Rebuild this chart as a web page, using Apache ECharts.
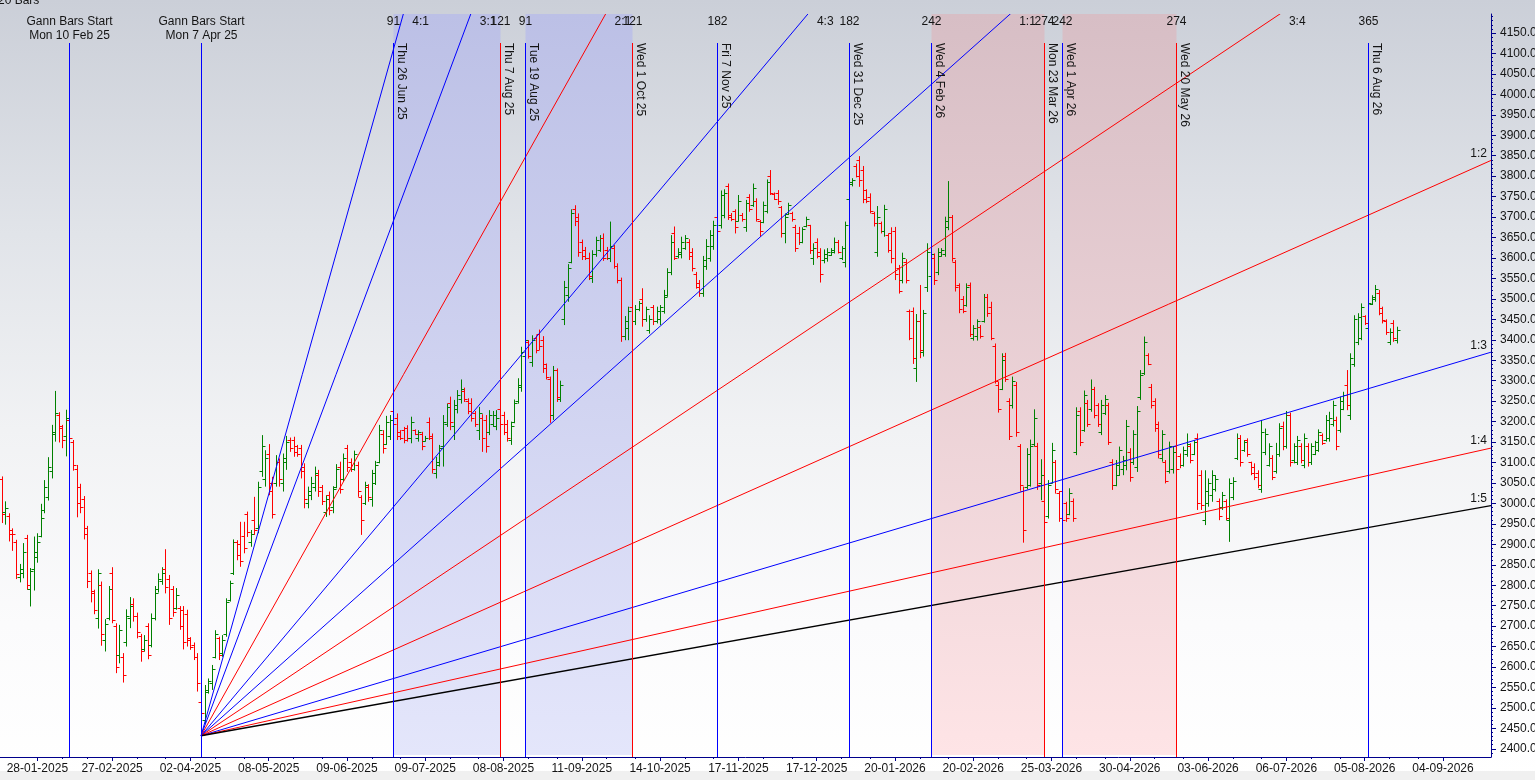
<!DOCTYPE html>
<html>
<head>
<meta charset="utf-8">
<script src="https://cdn.jsdelivr.net/npm/echarts@6.0.0/dist/echarts.min.js"></script>
<style>html,body{margin:0;padding:0;background:#fff;overflow:hidden}#c{width:1535px;height:780px}</style>
</head>
<body>
<div id="c"></div>
<script>
// ---------------- DATA ----------------
const startDate = '2025-01-14';
const categoryCount = 419;
const holidays = ['2025-02-26','2025-03-14','2025-03-31','2025-04-10','2025-04-14','2025-04-18','2025-05-01',
  '2025-08-15','2025-08-27','2025-10-02','2025-10-22','2025-11-05','2025-12-25',
  '2026-01-15','2026-01-26','2026-03-03','2026-03-26','2026-03-31','2026-04-03','2026-04-14',
  '2026-05-01','2026-05-28','2026-06-26','2026-09-14'];

const xTickLabels = ['28-01-2025','27-02-2025','02-04-2025','08-05-2025','09-06-2025','09-07-2025','08-08-2025',
  '11-09-2025','14-10-2025','17-11-2025','17-12-2025','20-01-2026','20-02-2026','25-03-2026','30-04-2026',
  '03-06-2026','06-07-2026','05-08-2026','04-09-2026'];

const yMin = 2380, yMax = 4196.5;
const yTicks = [2400,2450,2500,2550,2600,2650,2700,2750,2800,2850,2900,2950,3000,3050,3100,3150,3200,3250,
  3300,3350,3400,3450,3500,3550,3600,3650,3700,3750,3800,3850,3900,3950,4000,4050,4100,4150];

// daily bars [open, high, low, close], first bar = startDate
const ohlc = [
// Jan 14 - Feb 7 2025
[3060,3066,2952,2975],[2978,3005,2948,2988],[2970,2976,2907,2925],[2935,2939,2884,2924],[2905,2911,2815,2828],
[2820,2852,2807,2840],[2830,2903,2817,2880],[2915,2923,2789,2800],[2790,2842,2748,2835],[2840,2919,2787,2880],
[2870,2927,2855,2905],[2920,2999,2917,2965],[2985,3057,2976,3040],[3015,3113,3007,3090],[3080,3192,3061,3175],
[3170,3275,3151,3220],[3215,3223,3149,3190],[3185,3192,3135,3155],[3165,3229,3115,3210],
// Feb 10 - Apr 4
[3205,3215,3140,3160],[3150,3155,3080,3095],[3085,3094,2966,3000],[3040,3048,2976,2990],[3010,3018,2912,2925],
[2940,2945,2793,2810],[2830,2836,2758,2780],[2785,2789,2729,2740],[2720,2839,2694,2830],[2800,2809,2652,2680],
[2665,2717,2638,2705],[2720,2798,2714,2790],[2830,2844,2707,2715],[2700,2707,2585,2600],[2630,2703,2609,2690],
[2625,2634,2562,2580],[2660,2741,2650,2725],[2720,2771,2695,2750],[2755,2768,2711,2725],[2725,2733,2670,2685],
[2675,2681,2613,2640],[2645,2678,2638,2665],[2700,2707,2619,2630],[2655,2731,2648,2720],[2720,2798,2714,2780],
[2790,2829,2782,2815],[2810,2844,2801,2830],[2840,2888,2780,2795],[2815,2825,2703,2720],[2790,2798,2723,2735],
[2745,2793,2740,2775],[2745,2749,2691,2700],[2740,2749,2643,2660],[2730,2740,2650,2670],[2665,2673,2642,2650],
[2655,2660,2617,2625],[2625,2634,2540,2560],
// Apr 7 - Jun 25
[2515,2520,2432,2488],[2470,2556,2462,2545],[2540,2572,2535,2565],[2560,2605,2544,2595],[2625,2690,2621,2680],
[2670,2674,2617,2630],[2635,2678,2625,2665],[2680,2768,2674,2760],[2765,2811,2760,2805],[2830,2912,2825,2905],
[2905,2910,2861,2875],[2900,2955,2845,2860],[2920,2955,2878,2890],[2975,2980,2918,2930],[2905,2935,2894,2925],
[2960,3016,2923,2935],[2940,3053,2927,3040],[3080,3167,3065,3140],[3060,3130,3041,3110],[3120,3145,3020,3030],
[3050,3065,2963,2975],[3050,3118,3041,3100],[3100,3110,3041,3060],[3050,3122,3029,3110],[3100,3165,3082,3150],
[3155,3161,3126,3135],[3155,3163,3114,3125],[3140,3143,3114,3120],[3135,3143,3061,3080],[3090,3098,2988,3010],
[3000,3041,2988,3030],[3020,3065,3008,3050],[3040,3090,3029,3075],[3070,3082,3016,3030],[3040,3045,2996,3005],
[2980,3020,2967,3010],[3020,3029,2971,2985],[2990,3042,2976,3035],[3040,3096,3037,3085],[3090,3102,3024,3035],
[3060,3122,3053,3110],[3135,3143,3077,3090],[3100,3110,3077,3085],[3085,3129,3080,3120],[3095,3102,3016,3030],
[3015,3020,2923,2960],[3000,3053,2996,3045],[3040,3047,3004,3015],[3010,3082,2992,3075],[3050,3104,3045,3095],
[3100,3192,3098,3180],[3170,3179,3122,3135],[3145,3214,3143,3200],[3165,3216,3155,3205],
// Jun 26 - Aug 19
[3225,3232,3187,3195],[3210,3220,3155,3165],[3175,3179,3155,3160],[3180,3187,3147,3155],[3185,3191,3151,3160],
[3160,3212,3147,3200],[3180,3181,3167,3170],[3160,3179,3151,3175],[3170,3175,3130,3140],[3152,3165,3151,3160],
[3200,3210,3155,3165],[3160,3171,3073,3085],[3075,3114,3061,3100],[3095,3143,3090,3135],[3140,3216,3090,3200],
[3195,3244,3187,3235],[3245,3261,3179,3200],[3190,3253,3155,3240],[3230,3277,3220,3265],[3255,3303,3244,3280],
[3275,3283,3248,3255],[3250,3257,3218,3225],[3245,3257,3200,3210],[3220,3226,3187,3195],[3180,3236,3155,3220],
[3210,3218,3126,3160],[3205,3216,3124,3140],[3175,3228,3167,3215],[3195,3226,3187,3215],[3190,3228,3179,3210],
[3230,3238,3183,3195],[3215,3224,3167,3175],[3195,3204,3151,3160],[3155,3200,3143,3190],[3200,3254,3196,3245],
[3250,3306,3244,3290],[3285,3383,3273,3370],[3360,3432,3342,3400],
// Aug 20 - Oct 1
[3395,3399,3354,3360],[3345,3411,3334,3400],[3405,3411,3367,3375],[3415,3425,3375,3385],[3400,3409,3319,3330],
[3340,3342,3303,3310],[3305,3310,3197,3215],[3215,3336,3204,3325],[3325,3330,3248,3260],[3255,3300,3248,3290],
[3450,3544,3436,3530],[3510,3585,3493,3575],[3590,3719,3587,3710],[3720,3729,3678,3690],[3700,3709,3603,3615],
[3640,3645,3595,3605],[3620,3627,3595,3600],[3600,3613,3546,3555],[3550,3619,3539,3610],[3610,3652,3603,3645],
[3620,3656,3615,3650],[3650,3660,3593,3600],[3620,3627,3595,3600],[3600,3689,3590,3630],[3625,3632,3574,3580],
[3580,3587,3538,3545],[3545,3552,3395,3410],[3410,3458,3399,3445],[3430,3481,3399,3470],[3480,3507,3432,3445],
// Oct 3 - Nov 6
[3445,3485,3436,3475],[3475,3495,3470,3490],[3500,3526,3432,3450],[3450,3481,3444,3475],[3425,3460,3415,3450],
[3480,3485,3436,3445],[3445,3481,3440,3470],[3450,3485,3436,3480],[3470,3522,3464,3510],[3505,3575,3505,3565],
[3565,3656,3558,3640],[3660,3677,3595,3600],[3605,3624,3599,3615],[3610,3652,3599,3640],[3625,3656,3620,3650],
[3640,3646,3595,3605],[3615,3624,3567,3575],[3560,3566,3525,3530],[3540,3546,3505,3515],[3515,3605,3505,3595],
[3580,3646,3571,3630],[3600,3668,3591,3655],[3630,3691,3620,3680],
// Nov 7 - Dec 30
[3700,3719,3652,3665],[3680,3765,3672,3755],[3705,3768,3697,3760],[3775,3782,3693,3700],[3705,3710,3690,3695],
[3715,3719,3660,3675],[3690,3754,3689,3740],[3705,3710,3689,3695],[3675,3742,3664,3735],[3750,3756,3713,3720],
[3730,3782,3725,3770],[3740,3746,3689,3695],[3690,3693,3652,3665],[3688,3738,3685,3730],[3715,3792,3709,3785],
[3800,3815,3754,3760],[3756,3760,3742,3745],[3760,3766,3730,3740],[3725,3727,3650,3660],[3660,3709,3636,3700],
[3708,3735,3705,3730],[3710,3713,3689,3695],[3675,3681,3615,3625],[3660,3676,3632,3640],[3640,3675,3636,3670],
[3678,3701,3675,3695],[3680,3681,3610,3620],[3600,3636,3583,3625],[3640,3648,3599,3605],[3615,3624,3540,3560],
[3595,3621,3587,3610],[3600,3624,3591,3615],[3608,3624,3605,3620],[3615,3650,3611,3640],[3640,3644,3611,3615],
[3600,3629,3595,3625],[3590,3689,3577,3680],
// Dec 31 - Feb 3 2026
[3745,3791,3742,3785],[3780,3795,3775,3790],[3825,3831,3797,3800],[3840,3849,3774,3790],[3815,3825,3734,3745],
[3765,3768,3734,3740],[3750,3758,3709,3715],[3710,3713,3677,3685],[3615,3727,3603,3700],[3685,3689,3660,3665],
[3665,3730,3652,3720],[3655,3660,3613,3620],[3660,3675,3587,3600],[3665,3676,3546,3560],[3575,3583,3513,3520],
[3545,3613,3538,3600],[3590,3597,3538,3545],[3470,3474,3399,3405],[3470,3479,3341,3355],[3330,3463,3297,3445],
[3445,3534,3355,3375],[3370,3473,3359,3465],[3530,3636,3517,3615],
// Feb 4 - Mar 20
[3555,3619,3546,3610],[3600,3611,3534,3545],[3565,3624,3558,3615],[3605,3624,3603,3620],[3610,3701,3603,3690],
[3675,3788,3668,3700],[3700,3705,3591,3600],[3590,3595,3518,3530],[3535,3538,3465,3475],[3500,3507,3465,3470],
[3485,3538,3481,3530],[3535,3540,3407,3415],[3405,3436,3398,3430],[3410,3450,3398,3445],[3432,3436,3403,3410],
[3445,3512,3442,3505],[3505,3512,3456,3465],[3480,3493,3399,3405],[3385,3391,3293,3300],[3290,3297,3222,3230],
[3280,3367,3277,3350],[3360,3368,3297,3305],[3250,3257,3155,3165],[3240,3310,3232,3300],[3290,3297,3163,3175],
[3140,3145,3031,3045],[3030,3041,2904,2935],[3040,3135,3034,3120],[3045,3156,3041,3140],[3145,3230,3139,3210],
[3140,3148,3033,3045],[3050,3108,3008,3070],
// Mar 23 - Mar 30
[3005,3012,2935,2955],[2970,3057,2963,3045],[3050,3148,3049,3130],[3100,3106,3024,3035],[3025,3030,2955,2965],
// Apr 1 - May 19
[3030,3037,2939,2960],[3000,3004,2955,2965],[2975,3037,2971,3025],[3005,3012,2955,2965],[3125,3235,3118,3215],
[3225,3235,3140,3150],[3180,3276,3175,3265],[3245,3253,3187,3195],[3230,3303,3224,3280],[3280,3285,3208,3215],
[3240,3245,3187,3195],[3175,3253,3167,3240],[3220,3265,3216,3255],[3240,3246,3143,3150],[3100,3108,3033,3045],
[3045,3106,3042,3095],[3070,3139,3067,3130],[3085,3116,3069,3105],[3095,3204,3081,3190],[3125,3135,3053,3065],
[3100,3179,3094,3170],[3090,3238,3077,3225],[3260,3326,3253,3315],[3320,3408,3314,3395],[3362,3367,3338,3342],
[3285,3292,3232,3240],[3250,3257,3175,3185],[3195,3200,3110,3120],[3110,3179,3102,3170],[3100,3106,3049,3055],
[3080,3151,3073,3140],[3085,3139,3073,3125],
// May 20 - Aug 18
[3140,3147,3073,3085],[3115,3122,3086,3095],[3095,3139,3090,3130],[3120,3171,3114,3145],[3140,3147,3098,3105],
[3120,3155,3118,3150],[3160,3171,2984,3000],[3070,3081,2984,2995],[2960,3081,2947,3030],[3000,3061,2992,3050],
[3020,3081,3004,3070],[3035,3069,3029,3060],[3005,3012,2959,2970],[2990,3028,2984,3020],[3005,3010,2959,2965],
[2960,3061,2906,3050],[3015,3064,3008,3055],[3110,3171,3106,3160],[3160,3167,3090,3100],[3130,3155,3126,3150],
[3155,3159,3114,3120],[3100,3102,3069,3075],[3090,3098,3057,3065],[3075,3081,3037,3045],[3035,3204,3026,3175],
[3125,3183,3118,3170],[3095,3147,3090,3140],[3110,3118,3057,3065],[3080,3148,3073,3120],[3120,3196,3114,3185],
[3190,3200,3130,3140],[3140,3226,3134,3215],[3215,3222,3090,3100],[3105,3147,3098,3140],[3100,3165,3094,3155],
[3140,3147,3098,3105],[3095,3171,3086,3160],[3140,3147,3090,3100],[3100,3147,3094,3140],[3120,3153,3118,3150],
[3130,3181,3126,3175],[3168,3171,3143,3148],[3155,3216,3151,3205],[3160,3224,3151,3210],[3195,3251,3188,3240],
[3205,3212,3130,3140],[3180,3261,3173,3250],[3232,3273,3228,3265],[3290,3326,3228,3240],[3215,3367,3204,3355],
[3340,3460,3334,3450],[3395,3465,3387,3455],[3405,3489,3399,3480],[3458,3460,3436,3440],[3430,3501,3420,3490],
[3488,3509,3485,3505],[3500,3534,3493,3525],[3515,3522,3460,3465],[3478,3481,3440,3448],[3445,3450,3412,3420],
[3395,3428,3387,3420],[3440,3448,3395,3405],[3400,3432,3391,3425]
];

// Gann start lines and time-cycle lines
const startLineDates = ['10-02-2025','07-04-2025'];
const startLineTitle = 'Gann Bars Start';
const startLineTexts = ['Mon 10 Feb 25','Mon 7 Apr 25'];
const cycleDates = ['26-06-2025','07-08-2025','19-08-2025','01-10-2025','07-11-2025','31-12-2025',
  '04-02-2026','23-03-2026','01-04-2026','20-05-2026','06-08-2026'];
const cycleTexts = ['Thu 26 Jun 25','Thu 7 Aug 25','Tue 19 Aug 25','Wed 1 Oct 25','Fri 7 Nov 25','Wed 31 Dec 25',
  'Wed 4 Feb 26','Mon 23 Mar 26','Wed 1 Apr 26','Wed 20 May 26','Thu 6 Aug 26'];
const cycleCounts = ['91','121','91','121','182','182','242','274','242','274','365'];
const bandRanges = [['26-06-2025','07-08-2025'],['19-08-2025','01-10-2025'],['04-02-2026','23-03-2026'],['01-04-2026','20-05-2026']];

// Gann fan
const fanOriginDate = '07-04-2025';
const fanOriginPrice = 2432;
const fanUnit = 7.76; // price per bar for 1x1
const fanRatios = [4, 3, 2, 4/3, 1, 3/4, 1/2, 1/3, 1/4, 1/5];
const fanNames = ['4:1','3:1','2:1','4:3','1:1','3:4','1:2','1:3','1:4','1:5'];

// ---------------- STYLE ----------------
const BLUE = '#0000ff', RED = '#ff0000', GREEN = '#008000', BLACK = '#000000';
const cycleColors = [BLUE, RED, BLUE, RED, BLUE, BLUE, BLUE, RED, BLUE, RED, BLUE];
const fanColors = [BLUE, BLUE, RED, BLUE, BLUE, RED, RED, BLUE, RED, BLACK];
const bandKinds = [0, 0, 1, 1];
const bandFills = [
  {type:'linear',x:0,y:0,x2:0,y2:1,colorStops:[{offset:0,color:'#bcc0e6'},{offset:1,color:'#e4e6fb'}]},
  {type:'linear',x:0,y:0,x2:0,y2:1,colorStops:[{offset:0,color:'#d7bec5'},{offset:1,color:'#fee4e6'}]}
];
const FONT = '"Liberation Sans", Arial, sans-serif';
const TXT = '#141414';
const AXIS = '#00008b';

// ---------------- BUILD ----------------
function buildDates() {
  const out = [];
  const hs = new Set(holidays);
  let t = Date.parse(startDate + 'T00:00:00Z');
  while (out.length < categoryCount) {
    const d = new Date(t);
    const iso = d.toISOString().slice(0, 10);
    const wd = d.getUTCDay();
    if (wd !== 0 && wd !== 6 && !hs.has(iso)) out.push(iso.slice(8,10) + '-' + iso.slice(5,7) + '-' + iso.slice(0,4));
    t += 86400000;
  }
  return out;
}
const dates = buildDates();
const idxOf = d => dates.indexOf(d);
const labelSet = new Set(xTickLabels);
const originIdx = idxOf(fanOriginDate);

// minor x ticks at thirds between labelled dates
const labelIdx = xTickLabels.map(idxOf);
const minorXSet = new Set();
for (let j = 0; j + 1 < labelIdx.length; j++) {
  const a = labelIdx[j], b = labelIdx[j + 1];
  minorXSet.add(Math.round(a + (b - a) / 3));
  minorXSet.add(Math.round(a + 2 * (b - a) / 3));
}
const yMinor = [];
[2350].concat(yTicks).forEach(t => { for (let k = 10; k < 50; k += 10) { const v = t + k; if (v > yMin && v < yMax) yMinor.push(v); } });

const barData = ohlc.map((b, i) => [i, b[0], b[1], b[2], b[3]]);
const bandData = bandRanges.map((r, i) => [idxOf(r[0]), idxOf(r[1]), bandKinds[i]]);
const vlineData = [];
startLineDates.forEach((d, i) => vlineData.push([idxOf(d), 0, i]));
cycleDates.forEach((d, i) => vlineData.push([idxOf(d), 1, i]));
const fanData = fanRatios.map((r, i) => [originIdx, fanOriginPrice, i]);

function fanGeom(api, params, k) {
  const cs = params.coordSys;
  const p0 = api.coord([originIdx, fanOriginPrice]);
  const pxBar = api.coord([originIdx + 1, fanOriginPrice])[0] - p0[0];
  const xEnd = cs.x + cs.width;
  const barsEnd = (xEnd - p0[0]) / pxBar;
  const priceEnd = fanOriginPrice + fanRatios[k] * fanUnit * barsEnd;
  const yEnd = api.coord([originIdx, priceEnd])[1];
  const barsTop = (yMax - fanOriginPrice) / (fanRatios[k] * fanUnit);
  const xTop = p0[0] + barsTop * pxBar;
  return {p0, xEnd, yEnd, xTop, cs};
}

const chart = echarts.init(document.getElementById('c'));
chart.setOption({
  animation: false,
  graphic: [
    {type:'rect', z:-10, silent:true, shape:{x:0,y:0,width:1535,height:780},
     style:{fill:{type:'linear',x:0,y:0,x2:0,y2:1,colorStops:[
       {offset:0,color:'#cbcfd8'},{offset:0.3,color:'#e1e4e9'},{offset:0.55,color:'#f1f2f4'},
       {offset:0.8,color:'#fbfbfc'},{offset:1,color:'#ffffff'}]}}},
    {type:'rect', z:-9, silent:true, shape:{x:0,y:771,width:1535,height:9}, style:{fill:'#f0f0f0'}},
    {type:'text', z:10, left:-2, top:-5, style:{text:'20 Bars', font:'12px ' + FONT, fill:TXT}}
  ],
  grid: {left:0, right:44, top:14, bottom:23, containLabel:false, outerBoundsMode:'none'},
  xAxis: [
    {type:'category', data:dates, boundaryGap:true,
     axisLine:{show:true, lineStyle:{color:AXIS, width:1}},
     axisTick:{show:true, alignWithLabel:true, interval:(i, v) => labelSet.has(v), length:4, lineStyle:{color:AXIS}},
     axisLabel:{interval:(i, v) => labelSet.has(v), color:TXT, fontSize:12, fontFamily:FONT, margin:6, hideOverlap:false},
     splitLine:{show:false}},
    {type:'category', data:dates, boundaryGap:true, position:'bottom',
     axisLine:{show:false}, axisLabel:{show:false}, splitLine:{show:false},
     axisTick:{show:true, alignWithLabel:true, interval:(i) => minorXSet.has(i), length:2, lineStyle:{color:AXIS}}}
  ],
  yAxis: [
    {type:'value', position:'right', min:yMin, max:yMax,
     axisLine:{show:true, lineStyle:{color:AXIS, width:1}},
     axisTick:{show:true, customValues:yTicks, length:5, lineStyle:{color:AXIS}},
     axisLabel:{show:true, customValues:yTicks, formatter:v => Number(v).toFixed(2), color:TXT, fontSize:12, fontFamily:FONT, margin:9},
     splitLine:{show:false}},
    {type:'value', position:'right', min:yMin, max:yMax,
     axisLine:{show:false}, axisLabel:{show:false}, splitLine:{show:false},
     axisTick:{show:true, customValues:yMinor, length:2, lineStyle:{color:AXIS}}}
  ],
  series: [
    {type:'custom', name:'bands', z:1, silent:true, data:bandData, clip:true,
     renderItem:(params, api) => {
       const cs = params.coordSys;
       const x0 = api.coord([api.value(0), yMin])[0];
       const x1 = api.coord([api.value(1), yMin])[0];
       return {type:'rect', shape:{x:Math.round(x0)+0.5, y:cs.y, width:Math.round(x1)-Math.round(x0), height:cs.height-2},
               style:{fill:bandFills[api.value(2)]}};
     }},
    {type:'custom', name:'bars', z:3, silent:true, data:barData, clip:true,
     encode:{x:0, y:[1,2,3,4]},
     renderItem:(params, api) => {
       const i = api.value(0), o = api.value(1), h = api.value(2), l = api.value(3), c = api.value(4);
       const x = Math.round(api.coord([i, o])[0]) + 0.5;
       const yo = Math.round(api.coord([i, o])[1]) + 0.5;
       const yc = Math.round(api.coord([i, c])[1]) + 0.5;
       const yh = api.coord([i, h])[1], yl = api.coord([i, l])[1];
       const st = {stroke: c >= o ? GREEN : RED, lineWidth: 1};
       return {type:'group', children:[
         {type:'line', shape:{x1:x, y1:yh, x2:x, y2:yl}, style:st},
         {type:'line', shape:{x1:x-3, y1:yo, x2:x, y2:yo}, style:st},
         {type:'line', shape:{x1:x, y1:yc, x2:x+3, y2:yc}, style:st}
       ]};
     }},
    {type:'custom', name:'fan', z:4, silent:true, data:fanData, clip:true,
     renderItem:(params, api) => {
       const k = api.value(2);
       const g = fanGeom(api, params, k);
       return {type:'line', shape:{x1:g.p0[0], y1:g.p0[1], x2:g.xEnd, y2:g.yEnd},
               style:{stroke:fanColors[k], lineWidth: k === 9 ? 1.4 : 1}};
     }},
    {type:'custom', name:'cycles', z:5, silent:true, data:vlineData, clip:false,
     renderItem:(params, api) => {
       const cs = params.coordSys;
       const idx = api.value(0), kind = api.value(1), k = api.value(2);
       const x = Math.round(api.coord([idx, yMin])[0]) + 0.5;
       const top = cs.y + 29, bottom = cs.y + cs.height;
       const color = kind === 0 ? BLUE : cycleColors[k];
       const font = '12px ' + FONT;
       const ch = [{type:'line', shape:{x1:x, y1:top, x2:x, y2:bottom}, style:{stroke:color, lineWidth:1}}];
       if (kind === 0) {
         ch.push({type:'text', x:x, y:cs.y + 8, style:{text:startLineTitle, font, fill:TXT, align:'center', verticalAlign:'middle'}});
         ch.push({type:'text', x:x, y:cs.y + 22, style:{text:startLineTexts[k], font, fill:TXT, align:'center', verticalAlign:'middle'}});
       } else {
         ch.push({type:'text', x:x, y:cs.y + 8, style:{text:cycleCounts[k], font, fill:TXT, align:'center', verticalAlign:'middle'}});
         ch.push({type:'text', x:x + 8, y:top, rotation:-Math.PI / 2,
                  style:{text:cycleTexts[k], font, fill:TXT, align:'left', verticalAlign:'middle'}});
       }
       return {type:'group', children:ch};
     }},
    {type:'custom', name:'fanLabels', z:6, silent:true, data:fanData, clip:false,
     renderItem:(params, api) => {
       const k = api.value(2);
       const g = fanGeom(api, params, k);
       const font = '12px ' + FONT;
       if (g.xTop < g.xEnd - 20) {
         return {type:'text', x:g.xTop + 9, y:g.cs.y + 8, style:{text:fanNames[k], font, fill:TXT, align:'left', verticalAlign:'middle'}};
       }
       return {type:'text', x:g.xEnd - 4, y:g.yEnd - 1, style:{text:fanNames[k], font, fill:TXT, align:'right', verticalAlign:'bottom'}};
     }}
  ]
});
</script>
</body>
</html>
